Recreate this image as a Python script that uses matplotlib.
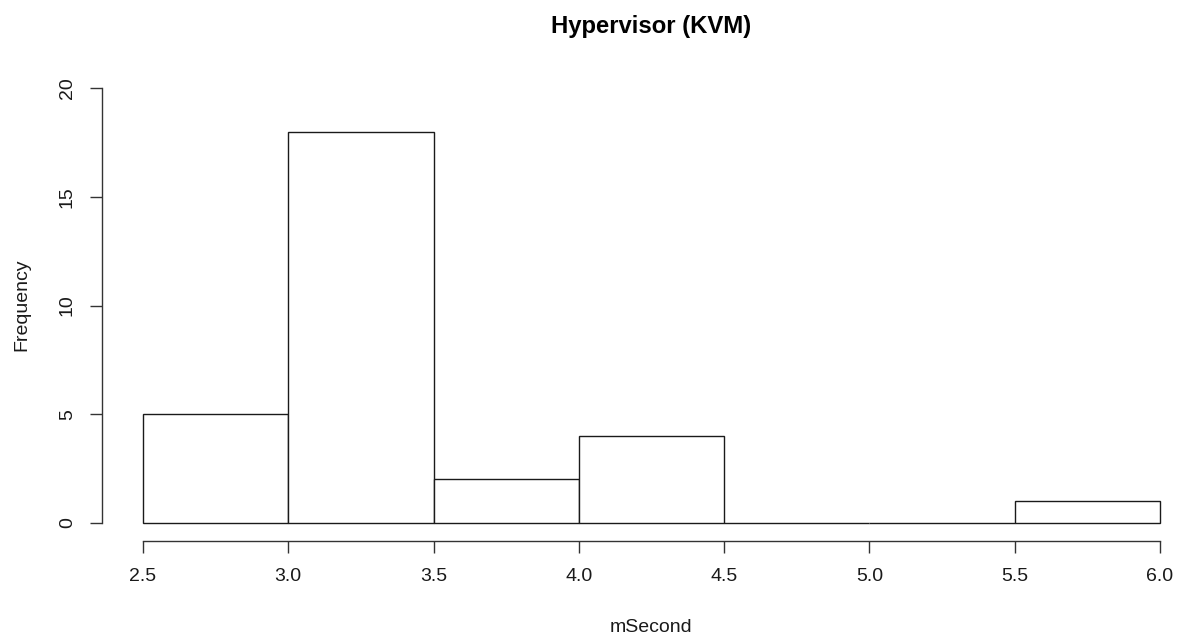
import matplotlib.pyplot as plt

# гистограмма в стиле base R hist(): границы корзин и частоты
breaks = [2.5, 3.0, 3.5, 4.0, 4.5, 5.0, 5.5, 6.0]
counts = [5, 18, 2, 4, 0, 0, 1]
x_ticks = [2.5, 3.0, 3.5, 4.0, 4.5, 5.0, 5.5, 6.0]
y_ticks = [0, 5, 10, 15, 20]

W, H = 1179, 638
plt.rcParams["font.family"] = ["Liberation Sans", "DejaVu Sans"]

fig = plt.figure(figsize=(W / 100, H / 100), dpi=100)
# оси подогнаны под пиксели исходной картинки
ax = fig.add_axes([101.7 / W, (H - 541) / H, (1175 - 101.7) / W, (541 - 80) / H])

lefts = breaks[:-1]
widths = [b - a for a, b in zip(breaks[:-1], breaks[1:])]
ax.bar(lefts, counts, width=widths, align="edge", facecolor="white",
       edgecolor="#1a1a1a", linewidth=1.0)

ax.set_xlim(2.358, 6.0516)
ax.set_ylim(-0.828, 20.37)

for side in ("top", "right"):
    ax.spines[side].set_visible(False)
for side in ("left", "bottom"):
    ax.spines[side].set_color("#333333")
    ax.spines[side].set_linewidth(1.0)
ax.spines["left"].set_bounds(0, 20)
ax.spines["bottom"].set_bounds(2.5, 6.0)

ax.set_xticks(x_ticks)
ax.set_xticklabels([f"{v:.1f}" for v in x_ticks])
ax.set_yticks(y_ticks)
ax.set_yticklabels([str(v) for v in y_ticks], rotation=90, va="center")
ax.tick_params(axis="both", direction="out", length=8.6, width=1.0,
               color="#333333", labelsize=14, labelcolor="#1a1a1a")
ax.tick_params(axis="x", pad=11)
ax.tick_params(axis="y", pad=10)

fig.text(651 / W, 1 - 627 / H, "mSecond", ha="center", va="center",
         fontsize=14, color="#1a1a1a")
fig.text(22 / W, 1 - 305 / H, "Frequency", ha="center", va="center",
         rotation=90, fontsize=14, color="#1a1a1a")
fig.text(651 / W, 1 - 26 / H, "Hypervisor (KVM)", ha="center", va="center",
         fontsize=17.2, fontweight="bold", color="black")

fig.savefig("out.png", dpi=100, facecolor="white")
